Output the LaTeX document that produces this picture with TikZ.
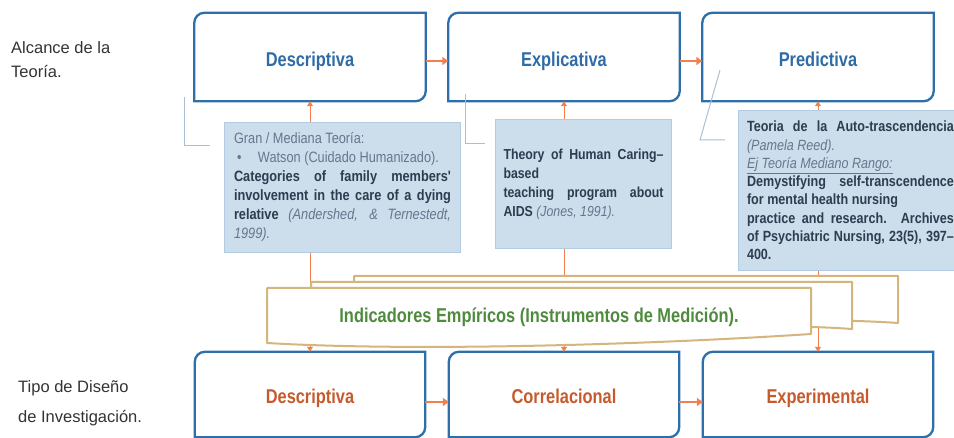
\documentclass[tikz,border=0pt]{standalone}
\usepackage{fontspec}
\setmainfont{Liberation Sans}
\newfontfamily\narrowsf[FakeStretch=0.82]{Liberation Sans}
\newfontfamily\notesf[FakeStretch=0.85]{Liberation Sans}
\usepackage{xcolor}
\usepackage{tikz}
\usetikzlibrary{arrows.meta,positioning,calc}

\definecolor{scopeblue}{HTML}{2E6FAA}
\definecolor{scopetext}{HTML}{2F6CA6}
\definecolor{designtext}{HTML}{C65A2C}
\definecolor{linkorange}{HTML}{F2804F}
\definecolor{notefill}{HTML}{CCDDEC}
\definecolor{noteedge}{HTML}{B3CBE0}
\definecolor{notedark}{HTML}{2E3C50}
\definecolor{notegray}{HTML}{66768C}
\definecolor{calloutgray}{HTML}{A9BFD4}
\definecolor{docedge}{HTML}{D4B67C}
\definecolor{docgreen}{HTML}{4F8B3D}
\definecolor{sidetext}{HTML}{333333}

\begin{document}
\begin{tikzpicture}[x=1pt,y=-1pt,
  levelbox/.style={minimum width=231pt, minimum height=88pt, inner sep=0pt,
    text height=19pt, text depth=0pt,
    font=\narrowsf\bfseries\fontsize{20}{24}\selectfont, text=scopetext},
  designbox/.style={minimum width=230pt, minimum height=85pt, inner sep=0pt,
    text height=19pt, text depth=0pt,
    font=\narrowsf\bfseries\fontsize{20}{24}\selectfont, text=designtext},
  notebox/.style={fill=notefill, draw=noteedge, line width=1pt, anchor=north west,
    align=justify, inner ysep=0pt, text=notedark},
  link/.style={draw=linkorange, line width=1pt, -{Triangle[width=6pt,length=5pt]}},
  steplink/.style={draw=linkorange, line width=2.5pt, -{Triangle[width=8pt,length=6pt]}},
  callout/.style={draw=calloutgray, line width=1pt},
  docsheet/.style={fill=white, draw=docedge, line width=2pt, line join=round},
  sidelabel/.style={anchor=north west, inner sep=0pt, align=left, text=sidetext}]
\useasboundingbox (0,0) rectangle (954,438);
\clip (0,0) rectangle (954,438);

% Side labels
\node[sidelabel, font=\fontsize{16.5}{24}\selectfont] (alcance) at (11,41) {Alcance de la\\Teoría.};
\node[sidelabel, font=\fontsize{16.5}{30}\selectfont] (tipo) at (18,380) {Tipo de Diseño\\de Investigación.};

% Alcance de la teoria
\node[levelbox] (dT) at (310,57) {Descriptiva};
\node[levelbox] (eT) at (564,57) {Explicativa};
\node[levelbox] (pT) at (818,57) {Predictiva};

% Tipo de diseno
\node[designbox] (dB) at (310,394.5) {Descriptiva};
\node[designbox] (cB) at (564,394.5) {Correlacional};
\node[designbox] (xB) at (818,394.5) {Experimental};

\foreach \n in {dT,eT,pT,dB,cB,xB}
  \draw[scopeblue, line width=2.3pt] (\n.south west) -- ([yshift=-10pt]\n.north west)
    arc[start angle=180, end angle=90, radius=10pt] -- (\n.north east)
    -- ([yshift=10pt]\n.south east) arc[start angle=0, end angle=-90, radius=10pt] -- cycle;

\draw[steplink] ([yshift=-4pt]dT.east) -- ([yshift=-4pt]eT.west);
\draw[steplink] ([yshift=-4pt]eT.east) -- ([yshift=-4pt]pT.west);
\draw[steplink] ([yshift=-7.5pt]dB.east) -- ([yshift=-7.5pt]cB.west);
\draw[steplink] ([yshift=-7.5pt]cB.east) -- ([yshift=-7.5pt]xB.west);

% Callouts
\draw[callout] (184,97) -- (184,146) -- (210,146);
\draw[callout] (465,94) -- (465,144) -- (485,144);
\draw[callout] (720,70) -- (700,140) -- (725,140);

% Theory notes
\node[notebox, text width=217pt, inner xsep=9.5pt, minimum height=130pt,
  font=\notesf\fontsize{15}{19}\selectfont] (gran) at (224,122) {\noindent
  {\color{notegray}Gran / Mediana Teoría:}\\
  {\color{notegray}\hspace*{3pt}\makebox[21pt][l]{•}Watson (Cuidado Humanizado).}\\
  \textbf{Categories of family members'}\linebreak
  \textbf{involvement in the care of a dying}\linebreak
  \textbf{relative} {\itshape\color{notegray}(Andershed, \& Ternestedt,}\linebreak
  {\itshape\color{notegray}1999).}};

\node[notebox, text width=160pt, inner xsep=8pt, minimum height=129pt,
  font=\notesf\fontsize{14.5}{19}\selectfont] (caring) at (495,119) {\noindent
  \textbf{Theory of Human Caring–}\linebreak
  \textbf{based}\\
  \textbf{teaching program about}\linebreak
  \textbf{AIDS} {\itshape\color{notegray}(Jones, 1991).}};

\node[notebox, text width=207pt, inner xsep=8.5pt, minimum height=160pt,
  font=\notesf\fontsize{14.8}{18.3}\selectfont] (reed) at (738,110) {\noindent
  \textbf{Teoria de la Auto-trascendencia}\linebreak
  {\itshape\color{notegray}(Pamela Reed).}\\
  {\itshape\color{notegray}\underline{Ej Teoría Mediano Rango:}}\\
  \textbf{Demystifying self-transcendence}\linebreak
  \textbf{for mental health nursing}\\
  \textbf{practice and research. Archives}\linebreak
  \textbf{of Psychiatric Nursing, 23(5), 397–}\linebreak
  \textbf{400.}};

% Links up and down
\draw[link] (gran.north -| dT.south) -- (dT.south);
\draw[link] (caring.north -| eT.south) -- (eT.south);
\draw[link] (reed.north -| pT.south) -- (pT.south);
\draw[link] (gran.south -| dB.north) -- (dB.north);
\draw[link] (caring.south -| cB.north) -- (cB.north);
\draw[link] (reed.south -| xB.north) -- (xB.north);

% Empirical indicators (stacked sheets)
\draw[docsheet] (354,276) -- (898,276) -- (898,323)
  .. controls (740,312) and (500,340) .. (354,332) -- cycle;
\draw[docsheet] (311,282) -- (852,282) -- (852,329)
  .. controls (700,318) and (460,346) .. (311,338) -- cycle;
\draw[docsheet] (267,288) -- (811,288) -- (811,334)
  .. controls (660,344) and (420,352) .. (267,343) -- cycle;
\node[font=\narrowsf\bfseries\fontsize{20}{24}\selectfont, text=docgreen] (ind) at (539,317)
  {Indicadores Empíricos (Instrumentos de Medición).};

\end{tikzpicture}
\end{document}
